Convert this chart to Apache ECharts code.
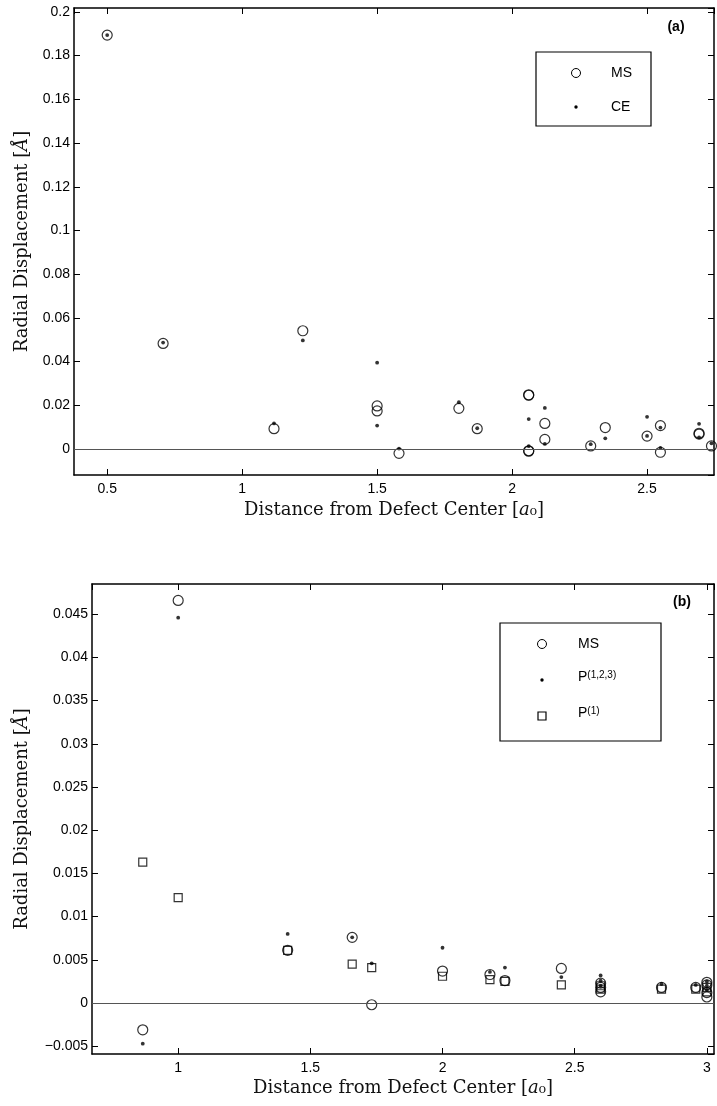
<!DOCTYPE html>
<html><head><meta charset="utf-8">
<script src="https://cdn.jsdelivr.net/npm/echarts@6/dist/echarts.min.js"></script>
<style>html,body{margin:0;padding:0;background:#fff}#c{width:717px;height:1106px}</style>
</head><body><div id="c"></div><script>
// ---- Panel (a) data ----
const aMsX = [0.5, 0.7071, 1.118, 1.2247, 1.5, 1.5, 1.5811, 1.8028, 1.8708, 2.0616, 2.0616, 2.0616, 2.0616, 2.1213, 2.1213, 2.2913, 2.3452, 2.5, 2.5495, 2.5495, 2.6926, 2.6926, 2.7386];
const aMsY = [0.1894, 0.0483, 0.0093, 0.0541, 0.0197, 0.0174, -0.0020, 0.0186, 0.0093, 0.0248, 0.0246, -0.0008, -0.0010, 0.0117, 0.0044, 0.0014, 0.0098, 0.0059, 0.0107, -0.0015, 0.0072, 0.0068, 0.0014];
const aCeX = [0.5, 0.7071, 1.118, 1.2247, 1.5, 1.5, 1.5811, 1.8028, 1.8708, 2.0616, 2.0616, 2.1213, 2.1213, 2.2913, 2.3452, 2.5, 2.5, 2.5495, 2.5495, 2.6926, 2.6926, 2.7386];
const aCeY = [0.1894, 0.0487, 0.0117, 0.0497, 0.0395, 0.0107, 0.0002, 0.0214, 0.0095, 0.0137, 0.0013, 0.0188, 0.0023, 0.0022, 0.0049, 0.0147, 0.0060, 0.0098, 0.0005, 0.0115, 0.0053, 0.0026];
// ---- Panel (b) data ----
const bMsX = [0.866, 1.0, 1.4142, 1.6583, 1.7321, 2.0, 2.1794, 2.2361, 2.4495, 2.5981, 2.5981, 2.5981, 2.8284, 2.958, 3.0, 3.0, 3.0, 3.0];
const bMsY = [-0.0031, 0.0466, 0.0061, 0.0076, -0.0002, 0.0037, 0.0033, 0.0026, 0.0040, 0.0023, 0.0018, 0.0013, 0.0018, 0.0018, 0.0024, 0.0021, 0.0012, 0.0007];
const bP123X = [0.866, 1.0, 1.4142, 1.6583, 1.7321, 2.0, 2.1794, 2.2361, 2.4495, 2.5981, 2.5981, 2.5981, 2.8284, 2.958, 3.0, 3.0, 3.0];
const bP123Y = [-0.0047, 0.0446, 0.0080, 0.0076, 0.0046, 0.0064, 0.0036, 0.0041, 0.0030, 0.0032, 0.0026, 0.0020, 0.0022, 0.0021, 0.0025, 0.0020, 0.0015];
const bP1X = [0.866, 1.0, 1.4142, 1.6583, 1.7321, 2.0, 2.1794, 2.2361, 2.4495, 2.5981, 2.5981, 2.8284, 2.958, 3.0, 3.0];
const bP1Y = [0.0163, 0.0122, 0.0061, 0.0045, 0.0041, 0.0031, 0.0027, 0.0025, 0.0021, 0.0020, 0.0016, 0.0016, 0.0016, 0.0018, 0.0013];
// ---- axis ranges / steps ----
const aXRange = [0.377, 2.748], aXStep = 0.5;
const aYRange = [-0.0119, 0.2018], aYStep = 0.02;
const bXRange = [0.674, 3.027], bXStep = 0.5;
const bYRange = [-0.0059, 0.0485], bYStep = 0.005;
const xTitle = 'Distance from Defect Center [{i|a}\u2080]';
const yTitle = 'Radial Displacement [{i|\u00C5}]';

const zip = (xs, ys) => xs.map((x, i) => [x, ys[i]]);
const fmt = v => String(+(+v).toFixed(4)).replace('-', '\u2212');
const SANS = '"Liberation Sans", Arial, sans-serif';
const SERIF = '"DejaVu Serif", serif';
const titleStyle = {fontFamily: SERIF, fontSize: 18, color: '#111',
  rich: {i: {fontFamily: SERIF, fontSize: 18, fontStyle: 'italic', color: '#111'}}};
const line = {show: true, onZero: false, lineStyle: {color: '#000', width: 1.5}};
const tick = {show: true, inside: true, length: 6, lineStyle: {color: '#000', width: 1}};

function axisPair(kind, grid, range, step, split, name, gap, lblMargin) {
  const main = {
    type: 'value', gridIndex: grid, min: range[0], max: range[1],
    splitNumber: split, minInterval: step, maxInterval: step,
    position: kind === 'x' ? 'bottom' : 'left',
    axisLine: line, axisTick: tick, splitLine: {show: false},
    axisLabel: {fontFamily: SANS, fontSize: 14, color: '#000', margin: lblMargin,
      showMinLabel: false, showMaxLabel: false, formatter: fmt},
    name: name, nameLocation: 'middle', nameGap: gap, nameTextStyle: titleStyle
  };
  const twin = {
    type: 'value', gridIndex: grid, min: range[0], max: range[1],
    splitNumber: split, minInterval: step, maxInterval: step,
    position: kind === 'x' ? 'top' : 'right',
    axisLine: line, axisTick: tick, splitLine: {show: false},
    axisLabel: {show: false}
  };
  return [main, twin];
}

const circleStyle = {color: 'rgba(0,0,0,0)', borderColor: '#000', borderWidth: 1.2};
const zeroLine = {silent: true, symbol: 'none', label: {show: false},
  lineStyle: {color: '#555', width: 1, type: 'solid'}, data: [{yAxis: 0}]};

const option = {
  animation: false,
  backgroundColor: '#fff',
  grid: [
    {left: 74, top: 8, right: 3, height: 467},
    {left: 92, top: 584, right: 3, height: 470}
  ],
  xAxis: [
    ...axisPair('x', 0, aXRange, aXStep, 5, xTitle, 26, 7),
    ...axisPair('x', 1, bXRange, bXStep, 5, xTitle, 25, 7)
  ],
  yAxis: [
    ...axisPair('y', 0, aYRange, aYStep, 10, yTitle, 43, 4),
    ...axisPair('y', 1, bYRange, bYStep, 11, yTitle, 61, 4)
  ],
  series: [
    {name: 'MS', type: 'scatter', xAxisIndex: 0, yAxisIndex: 0, data: zip(aMsX, aMsY),
      symbol: 'circle', symbolSize: 10, itemStyle: circleStyle, markLine: zeroLine},
    {name: 'CE', type: 'scatter', xAxisIndex: 0, yAxisIndex: 0, data: zip(aCeX, aCeY),
      symbol: 'circle', symbolSize: 3.8, itemStyle: {color: '#000'}},
    {name: 'MS (b)', type: 'scatter', xAxisIndex: 2, yAxisIndex: 2, data: zip(bMsX, bMsY),
      symbol: 'circle', symbolSize: 10, itemStyle: circleStyle, markLine: zeroLine},
    {name: 'P(1)', type: 'scatter', xAxisIndex: 2, yAxisIndex: 2, data: zip(bP1X, bP1Y),
      symbol: 'rect', symbolSize: 8, itemStyle: circleStyle},
    {name: 'P(1,2,3)', type: 'scatter', xAxisIndex: 2, yAxisIndex: 2, data: zip(bP123X, bP123Y),
      symbol: 'circle', symbolSize: 3.8, itemStyle: {color: '#000'}}
  ],
  graphic: [
    {type: 'text', x: 676, y: 27, style: {text: '(a)', font: 'bold 14px "Liberation Sans"', fill: '#000', align: 'center', verticalAlign: 'middle'}},
    {type: 'rect', shape: {x: 536, y: 52, width: 115, height: 74}, style: {fill: '#fff', stroke: '#000', lineWidth: 1.2}},
    {type: 'circle', shape: {cx: 576, cy: 73, r: 4.5}, style: {fill: 'none', stroke: '#000', lineWidth: 1}},
    {type: 'text', x: 611, y: 73, style: {text: 'MS', font: '14px "Liberation Sans"', fill: '#000', align: 'left', verticalAlign: 'middle'}},
    {type: 'circle', shape: {cx: 576, cy: 107, r: 1.7}, style: {fill: '#000'}},
    {type: 'text', x: 611, y: 107, style: {text: 'CE', font: '14px "Liberation Sans"', fill: '#000', align: 'left', verticalAlign: 'middle'}},

    {type: 'text', x: 682, y: 602, style: {text: '(b)', font: 'bold 14px "Liberation Sans"', fill: '#000', align: 'center', verticalAlign: 'middle'}},
    {type: 'rect', shape: {x: 500, y: 623, width: 161, height: 118}, style: {fill: '#fff', stroke: '#000', lineWidth: 1.2}},
    {type: 'circle', shape: {cx: 542, cy: 644, r: 4.5}, style: {fill: 'none', stroke: '#000', lineWidth: 1}},
    {type: 'text', x: 578, y: 644, style: {text: 'MS', font: '14px "Liberation Sans"', fill: '#000', align: 'left', verticalAlign: 'middle'}},
    {type: 'circle', shape: {cx: 542, cy: 680, r: 1.7}, style: {fill: '#000'}},
    {type: 'text', x: 578, y: 677, style: {text: '{p|P}{s|(1,2,3)}', fill: '#000', align: 'left', verticalAlign: 'middle',
      rich: {p: {fontFamily: SANS, fontSize: 14, lineHeight: 14, verticalAlign: 'bottom', color: '#000'},
             s: {fontFamily: SANS, fontSize: 10, lineHeight: 10, verticalAlign: 'top', color: '#000'}}}},
    {type: 'rect', shape: {x: 538, y: 712, width: 8, height: 8}, style: {fill: 'none', stroke: '#000', lineWidth: 1.2}},
    {type: 'text', x: 578, y: 713, style: {text: '{p|P}{s|(1)}', fill: '#000', align: 'left', verticalAlign: 'middle',
      rich: {p: {fontFamily: SANS, fontSize: 14, lineHeight: 14, verticalAlign: 'bottom', color: '#000'},
             s: {fontFamily: SANS, fontSize: 10, lineHeight: 10, verticalAlign: 'top', color: '#000'}}}}
  ]
};
const chart = echarts.init(document.getElementById('c'), null, {renderer: 'canvas'});
chart.setOption(option);
</script></body></html>
